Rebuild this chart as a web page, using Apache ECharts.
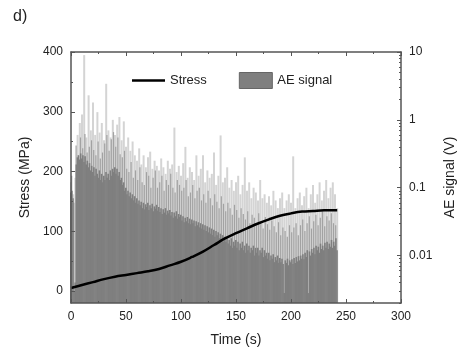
<!DOCTYPE html>
<html>
<head>
<meta charset="utf-8">
<script src="https://cdn.jsdelivr.net/npm/echarts@6/dist/echarts.min.js"></script>
<style>
html,body{margin:0;padding:0;background:#fff;}
#c{width:466px;height:354px;}
</style>
</head>
<body>
<div id="c"></div>
<script>
// Stress curve (time in s, stress in MPa)
const stressTime = [0, 10, 20, 30, 40, 50, 60, 70, 80, 90, 100, 110, 120, 130, 140, 150, 160, 170, 180, 190, 200, 210, 220, 230, 242];
const stressValue = [5, 10, 15, 20, 24, 27, 30, 33, 37, 43, 49, 57, 66, 77, 88, 97, 105, 113, 120, 126, 130, 133, 134, 135, 135];

// AE signal (V): dense body sampled every 1 s starting at t = 0
const aeBody = [
  0.085, 0.09, 0.07, 0.003, 0.004, 0.22, 0.28, 0.3, 0.26, 0.32,
  0.27, 0.3, 0.24, 0.29, 0.22, 0.25, 0.2, 0.23, 0.18, 0.21,
  0.17, 0.2, 0.15, 0.19, 0.16, 0.14, 0.18, 0.13, 0.16, 0.12,
  0.15, 0.13, 0.17, 0.14, 0.16, 0.13, 0.18, 0.15, 0.19, 0.17,
  0.2, 0.16, 0.19, 0.15, 0.17, 0.13, 0.14, 0.11, 0.12, 0.09,
  0.1, 0.08, 0.09, 0.075, 0.085, 0.07, 0.08, 0.065, 0.075, 0.06,
  0.07, 0.058, 0.065, 0.055, 0.062, 0.05, 0.06, 0.048, 0.057, 0.052,
  0.06, 0.047, 0.055, 0.05, 0.058, 0.045, 0.053, 0.049, 0.056, 0.046,
  0.052, 0.044, 0.05, 0.041, 0.048, 0.043, 0.05, 0.04, 0.046, 0.042,
  0.047, 0.039, 0.044, 0.036, 0.043, 0.038, 0.045, 0.035, 0.041, 0.037,
  0.04, 0.033, 0.038, 0.031, 0.036, 0.032, 0.037, 0.03, 0.035, 0.029,
  0.034, 0.03, 0.033, 0.027, 0.032, 0.028, 0.031, 0.026, 0.03, 0.025,
  0.029, 0.024, 0.028, 0.023, 0.027, 0.022, 0.026, 0.021, 0.025, 0.02,
  0.024, 0.019, 0.023, 0.02, 0.022, 0.018, 0.021, 0.017, 0.02, 0.016,
  0.019, 0.016, 0.018, 0.015, 0.017, 0.014, 0.018, 0.013, 0.016, 0.014,
  0.017, 0.013, 0.016, 0.012, 0.015, 0.013, 0.016, 0.012, 0.014, 0.011,
  0.015, 0.012, 0.014, 0.011, 0.013, 0.012, 0.014, 0.01, 0.013, 0.011,
  0.013, 0.01, 0.012, 0.011, 0.013, 0.0095, 0.012, 0.01, 0.011, 0.009,
  0.011, 0.0085, 0.01, 0.009, 0.0105, 0.008, 0.0095, 0.0085, 0.01, 0.0078,
  0.0092, 0.008, 0.009, 0.0075, 0.0028, 0.0085, 0.0078, 0.009, 0.0072, 0.0085,
  0.008, 0.0088, 0.0075, 0.0092, 0.0078, 0.0095, 0.0082, 0.0098, 0.0085, 0.01,
  0.009, 0.0105, 0.0088, 0.011, 0.0095, 0.012, 0.0028, 0.0115, 0.01, 0.0125,
  0.011, 0.013, 0.0105, 0.014, 0.012, 0.0135, 0.011, 0.015, 0.0125, 0.014,
  0.012, 0.0155, 0.013, 0.016, 0.0125, 0.015, 0.0135, 0.017, 0.013, 0.016,
  0.014, 0.018, 0.012
];
// AE signal (V): medium-height bursts every 2 s starting at t = 1
const aeMid = [
  0.15, 0.06, 0.42, 0.3, 0.55, 0.38, 0.62, 0.33, 0.4, 0.5,
  0.36, 0.3, 0.48, 0.27, 0.33, 0.45, 0.6, 0.35, 0.52, 0.66,
  0.4, 0.55, 0.31, 0.28, 0.35, 0.19, 0.17, 0.24, 0.14, 0.18,
  0.13, 0.2, 0.12, 0.11, 0.17, 0.15, 0.1, 0.14, 0.18, 0.1,
  0.12, 0.15, 0.09, 0.13, 0.11, 0.16, 0.1, 0.085, 0.13, 0.11,
  0.09, 0.1, 0.13, 0.075, 0.085, 0.11, 0.07, 0.09, 0.1, 0.065,
  0.08, 0.06, 0.09, 0.07, 0.055, 0.08, 0.062, 0.05, 0.075, 0.058,
  0.045, 0.06, 0.05, 0.04, 0.056, 0.047, 0.036, 0.05, 0.041, 0.034,
  0.045, 0.03, 0.04, 0.036, 0.028, 0.042, 0.03, 0.025, 0.037, 0.029,
  0.024, 0.033, 0.027, 0.022, 0.031, 0.02, 0.026, 0.023, 0.019, 0.028,
  0.022, 0.026, 0.03, 0.02, 0.028, 0.034, 0.023, 0.03, 0.038, 0.025,
  0.032, 0.04, 0.028, 0.036, 0.045, 0.027, 0.038, 0.033, 0.042, 0.03,
  0.028
];
// AE signal (V): tall sparse spikes every 2 s starting at t = 0
const aeSpike = [
  0.12, 0.08, 0.14, 0.6, 0.9, 1.2, 9.0, 0.55, 2.3, 0.7,
  1.8, 0.6, 1.3, 0.65, 0.9, 0.5, 3.4, 0.7, 0.55, 1.0,
  0.6, 0.85, 1.1, 0.5, 0.95, 0.4, 0.55, 0.35, 0.48, 0.3,
  0.25, 0.38, 0.22, 0.3, 0.2, 0.28, 0.34, 0.19, 0.25, 0.21,
  0.18, 0.27, 0.2, 0.16, 0.25, 0.19, 0.22, 0.77, 0.17, 0.21,
  0.15, 0.23, 0.4, 0.14, 0.2, 0.17, 0.13, 0.3, 0.15, 0.19,
  0.3, 0.12, 0.18, 0.14, 0.16, 0.33, 0.11, 0.15, 0.59, 0.12,
  0.14, 0.2, 0.1, 0.13, 0.09, 0.12, 0.15, 0.08, 0.11, 0.28,
  0.09, 0.12, 0.07, 0.1, 0.085, 0.065, 0.13, 0.07, 0.08, 0.06,
  0.075, 0.055, 0.09, 0.065, 0.05, 0.07, 0.085, 0.05, 0.065, 0.08,
  0.06, 0.29, 0.05, 0.07, 0.085, 0.055, 0.075, 0.1, 0.05, 0.08,
  0.11, 0.06, 0.08, 0.12, 0.065, 0.09, 0.13, 0.07, 0.1, 0.12,
  0.08, 0.05
];

// Tick labels
const timeTicks = [0, 50, 100, 150, 200, 250, 300];
const stressTicks = [0, 100, 200, 300, 400];
const stressMinorTicks = [50, 150, 250, 350];
const aeTicks = [0.01, 0.1, 1, 10];
const aeTickLabels = ['0.01', '0.1', '1', '10'];
const aeMinorTicks = [0.002, 0.003, 0.004, 0.005, 0.006, 0.007, 0.008, 0.009,
  0.02, 0.03, 0.04, 0.05, 0.06, 0.07, 0.08, 0.09,
  0.2, 0.3, 0.4, 0.5, 0.6, 0.7, 0.8, 0.9,
  2, 3, 4, 5, 6, 7, 8, 9];

const FONT = 'Liberation Sans, Arial, sans-serif';
const TXT = '#222';
const AX = '#555';

const chart = echarts.init(document.getElementById('c'), null, {renderer: 'canvas'});
function axLine() { return {show: true, onZero: false, lineStyle: {color: AX, width: 1.5}}; }

const option = {
  animation: false,
  backgroundColor: '#fff',
  title: {text: 'd)', left: 8, top: 4, textStyle: {fontFamily: FONT, fontSize: 16, fontWeight: 'normal', color: TXT}},
  legend: {
    left: 127, top: 67, itemGap: 32, itemWidth: 33, itemHeight: 16,
    textStyle: {fontFamily: FONT, fontSize: 13, color: TXT},
    data: [
      {name: 'Stress', icon: 'path://M0,0 L33,0 L33,2.6 L0,2.6 Z', itemStyle: {color: '#000'}},
      {name: 'AE signal', icon: 'rect', itemStyle: {color: '#7f7f7f', borderColor: '#666', borderWidth: 1}}
    ]
  },
  grid: {left: 71, right: 65, top: 52, bottom: 51, containLabel: false},
  xAxis: [
    {
      type: 'value', min: 0, max: 300, interval: 50, position: 'bottom', z: 10,
      name: 'Time (s)', nameLocation: 'middle', nameGap: 30,
      nameTextStyle: {fontFamily: FONT, fontSize: 14, color: TXT},
      axisLine: axLine(),
      axisTick: {show: true, inside: true, length: 4, lineStyle: {color: AX}},
      minorTick: {show: true, splitNumber: 2, length: 2, lineStyle: {color: AX}},
      axisLabel: {fontFamily: FONT, fontSize: 12, color: TXT, margin: 8, customValues: timeTicks},
      splitLine: {show: false}
    },
    {
      type: 'value', min: 0, max: 300, interval: 50, position: 'top', z: 10,
      axisLine: axLine(),
      axisTick: {show: true, inside: true, length: 4, lineStyle: {color: AX}},
      minorTick: {show: true, splitNumber: 2, length: 2, lineStyle: {color: AX}},
      axisLabel: {show: false},
      splitLine: {show: false}
    }
  ],
  yAxis: [
    {
      type: 'value', min: -20, max: 400, position: 'left', z: 10,
      name: 'Stress (MPa)', nameLocation: 'middle', nameGap: 34,
      nameTextStyle: {fontFamily: FONT, fontSize: 14, color: TXT},
      axisLine: axLine(),
      axisTick: {show: true, inside: true, length: 4, lineStyle: {color: AX}, customValues: stressTicks},
      axisLabel: {fontFamily: FONT, fontSize: 12, color: TXT, margin: 8, customValues: stressTicks},
      splitLine: {show: false}
    },
    {
      type: 'log', logBase: 10, min: 0.002, max: 10, position: 'right', startValue: 0.002, z: 10,
      name: 'AE signal (V)', nameLocation: 'middle', nameGap: 36,
      nameTextStyle: {fontFamily: FONT, fontSize: 14, color: TXT},
      axisLine: axLine(),
      axisTick: {show: true, inside: true, length: 4, lineStyle: {color: AX}, customValues: aeTicks},
      axisLabel: {fontFamily: FONT, fontSize: 12, color: TXT, margin: 8, customValues: aeTicks,
        formatter: function (v) { const i = aeTicks.findIndex(t => Math.abs(t - v) / t < 1e-6); return i >= 0 ? aeTickLabels[i] : ''; }},
      splitLine: {show: false}
    },
    {
      type: 'log', logBase: 10, min: 0.002, max: 10, position: 'right', z: 10,
      axisLine: {show: false, onZero: false},
      axisTick: {show: true, inside: true, length: 2, lineStyle: {color: AX}, customValues: aeMinorTicks},
      axisLabel: {show: false},
      splitLine: {show: false}
    },
    {
      type: 'value', min: -20, max: 400, position: 'left', z: 10,
      axisLine: {show: false, onZero: false},
      axisTick: {show: true, inside: true, length: 2, lineStyle: {color: AX}, customValues: stressMinorTicks},
      axisLabel: {show: false},
      splitLine: {show: false}
    }
  ],
  series: [
    {
      name: 'AE signal', type: 'bar', xAxisIndex: 0, yAxisIndex: 1, z: 4,
      barWidth: 1.6, barGap: '-100%', silent: true,
      itemStyle: {color: '#7f7f7f'},
      data: aeBody.map((v, i) => [i, v])
    },
    {
      name: 'AE signal', type: 'bar', xAxisIndex: 0, yAxisIndex: 1, z: 3,
      barWidth: 1.2, barGap: '-100%', silent: true,
      itemStyle: {color: '#a2a2a2'},
      data: aeMid.map((v, i) => [1 + 2 * i, v])
    },
    {
      name: 'AE signal', type: 'bar', xAxisIndex: 0, yAxisIndex: 1, z: 2,
      barWidth: 2.0, barGap: '-100%', silent: true,
      itemStyle: {color: '#d4d4d4'},
      data: aeSpike.map((v, i) => [2 * i, v])
    },
    {
      name: 'Stress', type: 'line', xAxisIndex: 0, yAxisIndex: 0, z: 6,
      smooth: 0.4, symbol: 'none', showSymbol: false,
      lineStyle: {color: '#000', width: 2.5},
      itemStyle: {color: '#000'},
      data: stressTime.map((t, i) => [t, stressValue[i]])
    }
  ]
};
chart.setOption(option);
</script>
</body>
</html>
